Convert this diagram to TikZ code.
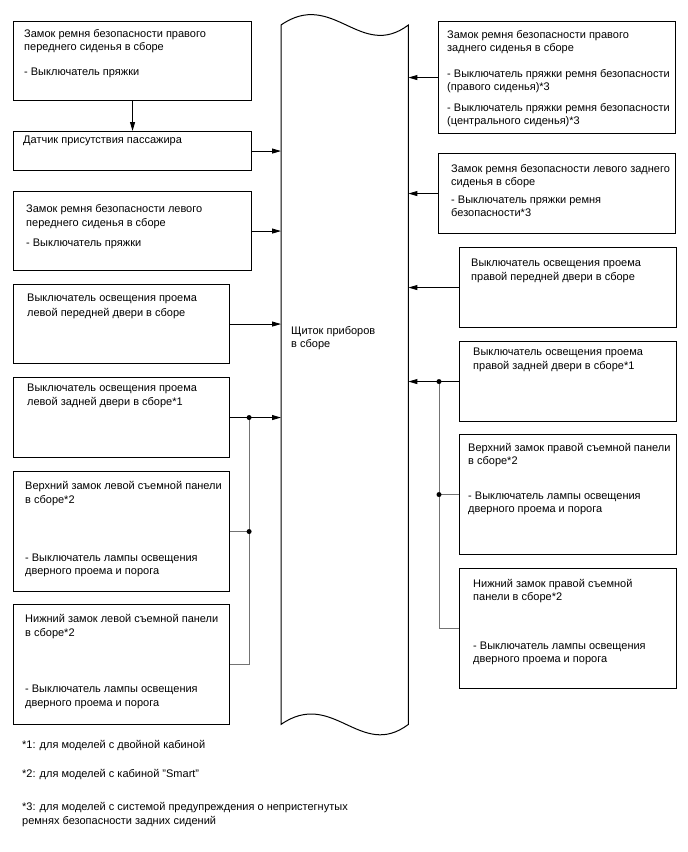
\documentclass[tikz,border=0pt]{standalone}
\usepackage{fontspec}
\setmainfont{Liberation Sans}
\usetikzlibrary{arrows.meta,positioning}

\begin{document}
\begin{tikzpicture}[x=1pt, y=-1pt, font=\fontsize{11}{13}\selectfont,
    unit/.style 2 args={draw, line width=1.1pt, anchor=north west, inner sep=0pt,
      minimum width=#1pt, minimum height=#2pt},
    txt/.style={anchor=north west, inner sep=0pt, align=left},
    feed/.style={-{Triangle[length=9pt,width=5pt]}, line width=0.9pt},
    bus/.style={draw=black!55, line width=0.9pt},
    dot/.style={fill=black}]
  \useasboundingbox (0,0) rectangle (688,852);

  % instrument cluster
  \node[inner sep=0pt, anchor=north west, minimum width=127pt, minimum height=699pt] (cluster) at (281,25) {};
  \draw[line width=1pt] (cluster.north west) .. controls +(52,-36) and +(-48,36) .. (cluster.north east)
    -- (cluster.south east) .. controls +(-48,36) and +(52,-36) .. (cluster.south west) -- cycle;
  \node[txt] (clusterTxt) at ([shift={(10,301)}]cluster.north west) {Щиток приборов\\в сборе};

  % left side
  \node[unit={238}{79}] (seatRF) at (13,21) {};
  \node[txt] (seatRFtxt) at ([shift={(11,8)}]seatRF.north west)
    {Замок ремня безопасности правого\\переднего сиденья в сборе\\[12pt]- Выключатель пряжки};
  \node[unit={238}{39}] (occSensor) at (13,131) {};
  \node[txt] (occSensorTxt) at ([shift={(10,5)}]occSensor.north west) {Датчик присутствия пассажира};
  \node[unit={238}{79}] (seatLF) at (13,191) {};
  \node[txt] (seatLFtxt) at ([shift={(13,13)}]seatLF.north west)
    {Замок ремня безопасности левого\\[1pt]переднего сиденья в сборе\\[7pt]- Выключатель пряжки};
  \node[unit={216}{79}] (doorLF) at (13,284) {};
  \node[txt] (doorLFtxt) at ([shift={(14,10)}]doorLF.north west)
    {Выключатель освещения проема\\[2pt]левой передней двери в сборе};
  \node[unit={216}{80}] (doorLR) at (13,377) {};
  \node[txt] (doorLRtxt) at ([shift={(14,7)}]doorLR.north west)
    {Выключатель освещения проема\\[1pt]левой задней двери в сборе*1};
  \node[unit={216}{120}] (panelLU) at (13,471) {};
  \node[txt] (panelLUtxt) at ([shift={(12,10)}]panelLU.north west)
    {Верхний замок левой съемной панели\\[1pt]в сборе*2\\[45pt]- Выключатель лампы освещения\\дверного проема и порога};
  \node[unit={216}{120}] (panelLL) at (13,604) {};
  \node[txt] (panelLLtxt) at ([shift={(12,10)}]panelLL.north west)
    {Нижний замок левой съемной панели\\[1pt]в сборе*2\\[43pt]- Выключатель лампы освещения\\[1pt]дверного проема и порога};

  % right side
  \node[unit={237}{112}] (seatRR) at (438,21) {};
  \node[txt] (seatRRtxt) at ([shift={(9,9)}]seatRR.north west)
    {Замок ремня безопасности правого\\заднего сиденья в сборе\\[13pt]- Выключатель пряжки ремня безопасности\\(правого сиденья)*3\\[8pt]- Выключатель пряжки ремня безопасности\\(центрального сиденья)*3};
  \node[unit={237}{80}] (seatLR) at (438,153) {};
  \node[txt] (seatLRtxt) at ([shift={(13,11)}]seatLR.north west)
    {Замок ремня безопасности левого заднего\\сиденья в сборе\\[5pt]- Выключатель пряжки ремня\\безопасности*3};
  \node[unit={217}{80}] (doorRF) at (459,247) {};
  \node[txt] (doorRFtxt) at ([shift={(12,12)}]doorRF.north west)
    {Выключатель освещения проема\\[1pt]правой передней двери в сборе};
  \node[unit={217}{80}] (doorRR) at (459,341) {};
  \node[txt] (doorRRtxt) at ([shift={(14,7)}]doorRR.north west)
    {Выключатель освещения проема\\[1pt]правой задней двери в сборе*1};
  \node[unit={217}{120}] (panelRU) at (459,434) {};
  \node[txt] (panelRUtxt) at ([shift={(9,9)}]panelRU.north west)
    {Верхний замок правой съемной панели\\в сборе*2\\[22pt]- Выключатель лампы освещения\\дверного проема и порога};
  \node[unit={217}{120}] (panelRL) at (459,568) {};
  \node[txt] (panelRLtxt) at ([shift={(14,11)}]panelRL.north west)
    {Нижний замок правой съемной\\панели в сборе*2\\[36pt]- Выключатель лампы освещения\\дверного проема и порога};

  % footnotes
  \node[txt] (notes) at (22,740)
    {*1: для моделей с двойной кабиной\\[16pt]*2: для моделей с кабиной \symbol{34}Smart\symbol{34}\\[20pt]*3: для моделей с системой предупреждения о непристегнутых\\[1pt]ремнях безопасности задних сидений};

  % connections
  \draw[feed] (seatRF) -- (occSensor);
  \draw[feed] (occSensor.east) -- (occSensor.east -| cluster.west);
  \draw[feed] (seatLF.east) -- (seatLF.east -| cluster.west);
  \draw[feed] (doorLF.east) -- (doorLF.east -| cluster.west);
  \coordinate (busL) at ([xshift=19pt]doorLR.east);
  \draw[bus] (panelLU.east) -- (panelLU.east -| busL);
  \draw[bus] (panelLL.east) -| (busL);
  \draw[feed] (doorLR.east) -- (doorLR.east -| cluster.west);
  \fill[dot] (busL) circle (2.5pt);
  \fill[dot] (panelLU.east -| busL) circle (2.5pt);

  \draw[feed] (seatRR.west) -- (seatRR.west -| cluster.east);
  \draw[feed] (seatLR.west) -- (seatLR.west -| cluster.east);
  \draw[feed] (doorRF.west) -- (doorRF.west -| cluster.east);
  \coordinate (busR) at ([xshift=-20pt]doorRR.west);
  \draw[bus] (panelRU.west) -- (panelRU.west -| busR);
  \draw[bus] (panelRL.west) -| (busR);
  \draw[feed] (doorRR.west) -- (doorRR.west -| cluster.east);
  \fill[dot] (busR) circle (2.5pt);
  \fill[dot] (panelRU.west -| busR) circle (2.5pt);
\end{tikzpicture}
\end{document}
